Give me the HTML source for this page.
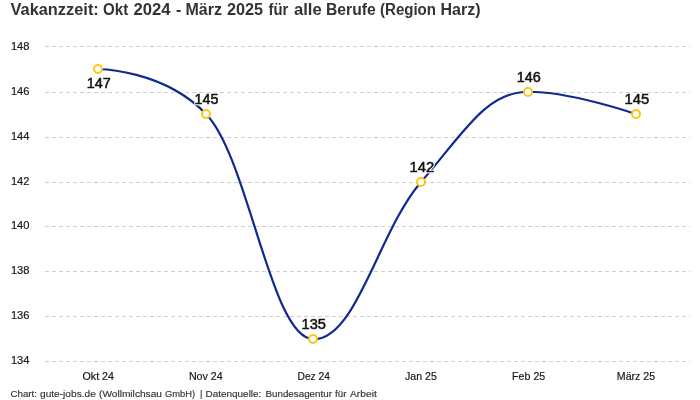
<!DOCTYPE html>
<html><head><meta charset="utf-8"><style>html,body{margin:0;padding:0;width:700px;height:400px;overflow:hidden;background:#fff}</style></head>
<body>
<svg width="700" height="400" viewBox="0 0 700 400" style="position:absolute;left:0;top:0;will-change:transform">
<rect width="700" height="400" fill="#fff"/>
<line x1="45" y1="46.5" x2="690" y2="46.5" stroke="#cfcfcf" stroke-width="1" stroke-dasharray="4 3" shape-rendering="crispEdges"/>
<line x1="45" y1="92.5" x2="690" y2="92.5" stroke="#cfcfcf" stroke-width="1" stroke-dasharray="4 3" shape-rendering="crispEdges"/>
<line x1="45" y1="137.5" x2="690" y2="137.5" stroke="#cfcfcf" stroke-width="1" stroke-dasharray="4 3" shape-rendering="crispEdges"/>
<line x1="45" y1="182.5" x2="690" y2="182.5" stroke="#cfcfcf" stroke-width="1" stroke-dasharray="4 3" shape-rendering="crispEdges"/>
<line x1="45" y1="226.5" x2="690" y2="226.5" stroke="#cfcfcf" stroke-width="1" stroke-dasharray="4 3" shape-rendering="crispEdges"/>
<line x1="45" y1="271.5" x2="690" y2="271.5" stroke="#cfcfcf" stroke-width="1" stroke-dasharray="4 3" shape-rendering="crispEdges"/>
<line x1="45" y1="316.5" x2="690" y2="316.5" stroke="#cfcfcf" stroke-width="1" stroke-dasharray="4 3" shape-rendering="crispEdges"/>
<line x1="45" y1="361.5" x2="690" y2="361.5" stroke="#cfcfcf" stroke-width="1" stroke-dasharray="4 3" shape-rendering="crispEdges"/>
<path d="M98.75,69.25C98.75,69.25 163.25,69.25 206.25,114.25C249.25,159.25 270.75,339.25 313.75,339.25C356.75,339.25 378.25,231.25 421.25,181.75C464.25,132.25 485.75,91.75 528.75,91.75C571.75,91.75 636.25,114.25 636.25,114.25" fill="none" stroke="#10298f" stroke-width="2.2"/>
<circle cx="98" cy="69" r="4" fill="#fff" stroke="#fec418" stroke-width="2"/>
<circle cx="206" cy="114" r="4" fill="#fff" stroke="#fec418" stroke-width="2"/>
<circle cx="313" cy="339" r="4" fill="#fff" stroke="#fec418" stroke-width="2"/>
<circle cx="421" cy="182" r="4" fill="#fff" stroke="#fec418" stroke-width="2"/>
<circle cx="528" cy="92" r="4" fill="#fff" stroke="#fec418" stroke-width="2"/>
<circle cx="636" cy="114" r="4" fill="#fff" stroke="#fec418" stroke-width="2"/>
<text x="10.50" y="14.6" textLength="88.30" lengthAdjust="spacingAndGlyphs" font-family='"Liberation Sans", sans-serif' font-size="16" font-weight="bold" fill="#333">Vakanzzeit:</text>
<text x="103.00" y="14.6" textLength="25.19" lengthAdjust="spacingAndGlyphs" font-family='"Liberation Sans", sans-serif' font-size="16" font-weight="bold" fill="#333">Okt</text>
<text x="133.50" y="14.6" textLength="37.08" lengthAdjust="spacingAndGlyphs" font-family='"Liberation Sans", sans-serif' font-size="16" font-weight="bold" fill="#333">2024</text>
<text x="176.00" y="14.6" textLength="5.33" lengthAdjust="spacingAndGlyphs" font-family='"Liberation Sans", sans-serif' font-size="16" font-weight="bold" fill="#333">-</text>
<text x="185.50" y="14.6" textLength="36.45" lengthAdjust="spacingAndGlyphs" font-family='"Liberation Sans", sans-serif' font-size="16" font-weight="bold" fill="#333">März</text>
<text x="227.00" y="14.6" textLength="36.09" lengthAdjust="spacingAndGlyphs" font-family='"Liberation Sans", sans-serif' font-size="16" font-weight="bold" fill="#333">2025</text>
<text x="268.50" y="14.6" textLength="19.80" lengthAdjust="spacingAndGlyphs" font-family='"Liberation Sans", sans-serif' font-size="16" font-weight="bold" fill="#333">für</text>
<text x="294.00" y="14.6" textLength="27.71" lengthAdjust="spacingAndGlyphs" font-family='"Liberation Sans", sans-serif' font-size="16" font-weight="bold" fill="#333">alle</text>
<text x="326.02" y="14.6" textLength="49.65" lengthAdjust="spacingAndGlyphs" font-family='"Liberation Sans", sans-serif' font-size="16" font-weight="bold" fill="#333">Berufe</text>
<text x="380.00" y="14.6" textLength="56.01" lengthAdjust="spacingAndGlyphs" font-family='"Liberation Sans", sans-serif' font-size="16" font-weight="bold" fill="#333">(Region</text>
<text x="440.50" y="14.6" textLength="40.02" lengthAdjust="spacingAndGlyphs" font-family='"Liberation Sans", sans-serif' font-size="16" font-weight="bold" fill="#333">Harz)</text>
<text x="10.50" y="396.6" textLength="26.37" lengthAdjust="spacingAndGlyphs" font-family='"Liberation Sans", sans-serif' font-size="9.5" font-weight="normal" fill="#333" stroke="#333" stroke-width="0.15">Chart:</text>
<text x="40.00" y="396.6" textLength="55.82" lengthAdjust="spacingAndGlyphs" font-family='"Liberation Sans", sans-serif' font-size="9.5" font-weight="normal" fill="#333" stroke="#333" stroke-width="0.15">gute-jobs.de</text>
<text x="99.00" y="396.6" textLength="62.95" lengthAdjust="spacingAndGlyphs" font-family='"Liberation Sans", sans-serif' font-size="9.5" font-weight="normal" fill="#333" stroke="#333" stroke-width="0.15">(Wollmilchsau</text>
<text x="165.00" y="396.6" textLength="30.13" lengthAdjust="spacingAndGlyphs" font-family='"Liberation Sans", sans-serif' font-size="9.5" font-weight="normal" fill="#333" stroke="#333" stroke-width="0.15">GmbH)</text>
<text x="200.00" y="396.6" textLength="2.47" lengthAdjust="spacingAndGlyphs" font-family='"Liberation Sans", sans-serif' font-size="9.5" font-weight="normal" fill="#333" stroke="#333" stroke-width="0.15">|</text>
<text x="205.50" y="396.6" textLength="55.88" lengthAdjust="spacingAndGlyphs" font-family='"Liberation Sans", sans-serif' font-size="9.5" font-weight="normal" fill="#333" stroke="#333" stroke-width="0.15">Datenquelle:</text>
<text x="265.50" y="396.6" textLength="66.44" lengthAdjust="spacingAndGlyphs" font-family='"Liberation Sans", sans-serif' font-size="9.5" font-weight="normal" fill="#333" stroke="#333" stroke-width="0.15">Bundesagentur</text>
<text x="335.10" y="396.6" textLength="11.50" lengthAdjust="spacingAndGlyphs" font-family='"Liberation Sans", sans-serif' font-size="9.5" font-weight="normal" fill="#333" stroke="#333" stroke-width="0.15">für</text>
<text x="350.00" y="396.6" textLength="26.81" lengthAdjust="spacingAndGlyphs" font-family='"Liberation Sans", sans-serif' font-size="9.5" font-weight="normal" fill="#333" stroke="#333" stroke-width="0.15">Arbeit</text>
<text x="82.50" y="380" textLength="31.52" lengthAdjust="spacingAndGlyphs" font-family='"Liberation Sans", sans-serif' font-size="11" font-weight="normal" fill="#1a1a1a" stroke="#1a1a1a" stroke-width="0.2">Okt 24</text>
<text x="188.90" y="380" textLength="33.86" lengthAdjust="spacingAndGlyphs" font-family='"Liberation Sans", sans-serif' font-size="11" font-weight="normal" fill="#1a1a1a" stroke="#1a1a1a" stroke-width="0.2">Nov 24</text>
<text x="297.50" y="380" textLength="32.37" lengthAdjust="spacingAndGlyphs" font-family='"Liberation Sans", sans-serif' font-size="11" font-weight="normal" fill="#1a1a1a" stroke="#1a1a1a" stroke-width="0.2">Dez 24</text>
<text x="405.00" y="380" textLength="31.83" lengthAdjust="spacingAndGlyphs" font-family='"Liberation Sans", sans-serif' font-size="11" font-weight="normal" fill="#1a1a1a" stroke="#1a1a1a" stroke-width="0.2">Jan 25</text>
<text x="512.10" y="380" textLength="33.14" lengthAdjust="spacingAndGlyphs" font-family='"Liberation Sans", sans-serif' font-size="11" font-weight="normal" fill="#1a1a1a" stroke="#1a1a1a" stroke-width="0.2">Feb 25</text>
<text x="616.80" y="380" textLength="38.36" lengthAdjust="spacingAndGlyphs" font-family='"Liberation Sans", sans-serif' font-size="11" font-weight="normal" fill="#1a1a1a" stroke="#1a1a1a" stroke-width="0.2">März 25</text>
<text x="86.75" y="88" textLength="24.02" lengthAdjust="spacingAndGlyphs" font-family='"Liberation Sans", sans-serif' font-size="14" font-weight="normal" fill="#fff" stroke="#fff" stroke-width="2.5" stroke-linejoin="round">147</text>
<text x="86.75" y="88" textLength="24.02" lengthAdjust="spacingAndGlyphs" font-family='"Liberation Sans", sans-serif' font-size="14" font-weight="normal" fill="#111" stroke="#111" stroke-width="0.5">147</text>
<text x="194.50" y="104" textLength="23.87" lengthAdjust="spacingAndGlyphs" font-family='"Liberation Sans", sans-serif' font-size="14" font-weight="normal" fill="#fff" stroke="#fff" stroke-width="2.5" stroke-linejoin="round">145</text>
<text x="194.50" y="104" textLength="23.87" lengthAdjust="spacingAndGlyphs" font-family='"Liberation Sans", sans-serif' font-size="14" font-weight="normal" fill="#111" stroke="#111" stroke-width="0.5">145</text>
<text x="301.50" y="329" textLength="24.38" lengthAdjust="spacingAndGlyphs" font-family='"Liberation Sans", sans-serif' font-size="14" font-weight="normal" fill="#fff" stroke="#fff" stroke-width="2.5" stroke-linejoin="round">135</text>
<text x="301.50" y="329" textLength="24.38" lengthAdjust="spacingAndGlyphs" font-family='"Liberation Sans", sans-serif' font-size="14" font-weight="normal" fill="#111" stroke="#111" stroke-width="0.5">135</text>
<text x="409.50" y="171.9" textLength="24.58" lengthAdjust="spacingAndGlyphs" font-family='"Liberation Sans", sans-serif' font-size="14" font-weight="normal" fill="#fff" stroke="#fff" stroke-width="2.5" stroke-linejoin="round">142</text>
<text x="409.50" y="171.9" textLength="24.58" lengthAdjust="spacingAndGlyphs" font-family='"Liberation Sans", sans-serif' font-size="14" font-weight="normal" fill="#111" stroke="#111" stroke-width="0.5">142</text>
<text x="516.80" y="81.9" textLength="23.97" lengthAdjust="spacingAndGlyphs" font-family='"Liberation Sans", sans-serif' font-size="14" font-weight="normal" fill="#fff" stroke="#fff" stroke-width="2.5" stroke-linejoin="round">146</text>
<text x="516.80" y="81.9" textLength="23.97" lengthAdjust="spacingAndGlyphs" font-family='"Liberation Sans", sans-serif' font-size="14" font-weight="normal" fill="#111" stroke="#111" stroke-width="0.5">146</text>
<text x="624.60" y="104.2" textLength="24.58" lengthAdjust="spacingAndGlyphs" font-family='"Liberation Sans", sans-serif' font-size="14" font-weight="normal" fill="#fff" stroke="#fff" stroke-width="2.5" stroke-linejoin="round">145</text>
<text x="624.60" y="104.2" textLength="24.58" lengthAdjust="spacingAndGlyphs" font-family='"Liberation Sans", sans-serif' font-size="14" font-weight="normal" fill="#111" stroke="#111" stroke-width="0.5">145</text>
<text x="10.90" y="50" textLength="18.58" lengthAdjust="spacingAndGlyphs" font-family='"Liberation Sans", sans-serif' font-size="11.5" font-weight="normal" fill="#1a1a1a" stroke="#1a1a1a" stroke-width="0.2">148</text>
<text x="10.90" y="95" textLength="18.58" lengthAdjust="spacingAndGlyphs" font-family='"Liberation Sans", sans-serif' font-size="11.5" font-weight="normal" fill="#1a1a1a" stroke="#1a1a1a" stroke-width="0.2">146</text>
<text x="10.90" y="140" textLength="18.58" lengthAdjust="spacingAndGlyphs" font-family='"Liberation Sans", sans-serif' font-size="11.5" font-weight="normal" fill="#1a1a1a" stroke="#1a1a1a" stroke-width="0.2">144</text>
<text x="10.90" y="185" textLength="18.58" lengthAdjust="spacingAndGlyphs" font-family='"Liberation Sans", sans-serif' font-size="11.5" font-weight="normal" fill="#1a1a1a" stroke="#1a1a1a" stroke-width="0.2">142</text>
<text x="10.90" y="229" textLength="18.58" lengthAdjust="spacingAndGlyphs" font-family='"Liberation Sans", sans-serif' font-size="11.5" font-weight="normal" fill="#1a1a1a" stroke="#1a1a1a" stroke-width="0.2">140</text>
<text x="10.90" y="274" textLength="18.58" lengthAdjust="spacingAndGlyphs" font-family='"Liberation Sans", sans-serif' font-size="11.5" font-weight="normal" fill="#1a1a1a" stroke="#1a1a1a" stroke-width="0.2">138</text>
<text x="10.90" y="319" textLength="18.58" lengthAdjust="spacingAndGlyphs" font-family='"Liberation Sans", sans-serif' font-size="11.5" font-weight="normal" fill="#1a1a1a" stroke="#1a1a1a" stroke-width="0.2">136</text>
<text x="10.90" y="364" textLength="18.58" lengthAdjust="spacingAndGlyphs" font-family='"Liberation Sans", sans-serif' font-size="11.5" font-weight="normal" fill="#1a1a1a" stroke="#1a1a1a" stroke-width="0.2">134</text>
</svg>
</body></html>
